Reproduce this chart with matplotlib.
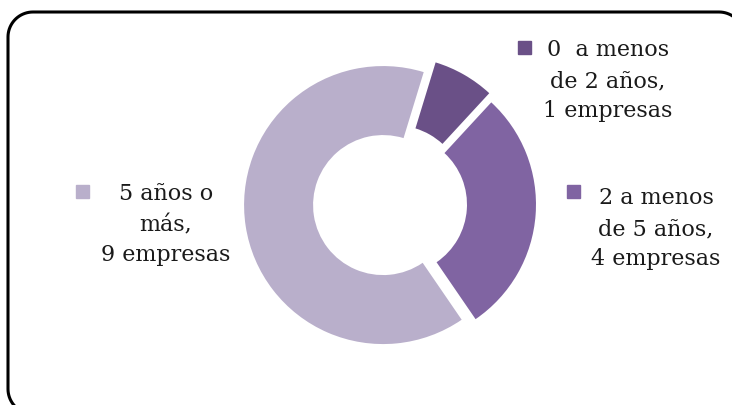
import numpy as np
import matplotlib.pyplot as plt
from matplotlib.patches import Rectangle

# data
categories = ["0  a menos\nde 2 años,\n1 empresas",
              "2 a menos\nde 5 años,\n4 empresas",
              "5 años o\nmás,\n9 empresas"]
values = [1, 4, 9]
colors = ["#6A5087", "#8064A2", "#B9AFCB"]

W, H = 732, 405
fig = plt.figure(figsize=(W / 100, H / 100), dpi=100)
ax = fig.add_axes([0, 0, 1, 1])

# donut (pixel units, y measured from bottom)
cx, cy, R = 390, H - 204, 139
ax.pie(values, colors=colors, radius=R, center=(cx, cy),
       startangle=73, counterclock=False, explode=[10, 7, 7],
       wedgeprops=dict(width=69, edgecolor="none"), frame=False)

# labels with legend keys: (text x, text y, key x, key y)
label_pos = [(608, 81, 524, 47), (656, 229, 573, 191), (166, 225, 82, 191)]
for txt, col, (tx, ty, kx, ky) in zip(categories, colors, label_pos):
    ax.text(tx, H - ty, txt, ha="center", va="center", fontsize=16,
            family="DejaVu Serif", color="#1a1a1a", linespacing=1.5)
    ax.add_patch(Rectangle((kx - 6.5, H - ky - 6.5), 13, 13, color=col))


def rounded_box(x0, y0, x1, y1, r, n=20):
    # corners as sampled arcs so the Agg clipper doesn't mangle bezier curves
    pts = []
    for (ccx, ccy, a0) in [(x1 - r, y1 - r, 0), (x0 + r, y1 - r, 90),
                           (x0 + r, y0 + r, 180), (x1 - r, y0 + r, 270)]:
        t = np.radians(np.linspace(a0, a0 + 90, n))
        pts.append(np.column_stack([ccx + r * np.cos(t), ccy + r * np.sin(t)]))
    pts = np.vstack(pts)
    return np.vstack([pts, pts[:1]])


# rounded chart border (runs off the right and bottom edges)
box = rounded_box(8, H - 414, 744, H - 12, 25)
ax.plot(box[:, 0], box[:, 1], color="black", lw=2.2, clip_on=False,
        solid_joinstyle="round")

ax.set_xlim(0, W)
ax.set_ylim(0, H)
ax.set_aspect("auto")
ax.axis("off")

fig.savefig("out.png", dpi=100)
